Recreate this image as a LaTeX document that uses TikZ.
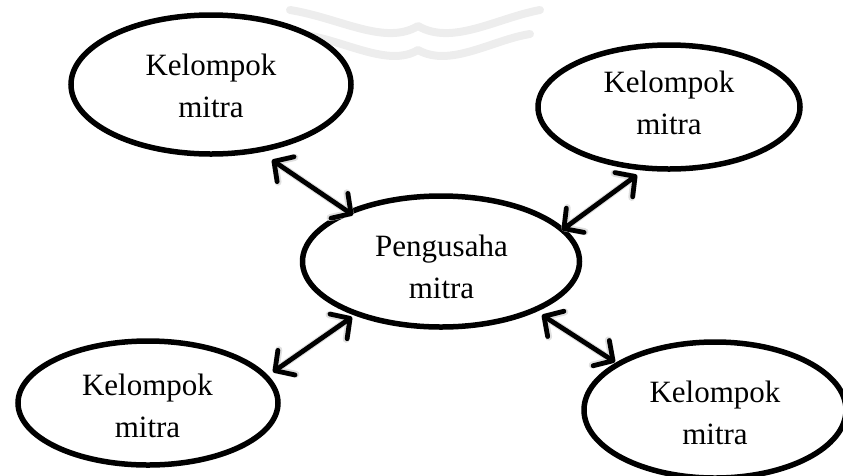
\documentclass[tikz,border=0pt]{standalone}
\usepackage{fontspec}
\setmainfont{Liberation Serif}
\usetikzlibrary{shapes.geometric,arrows.meta}

\tikzset{
  oval/.style={ellipse, draw=black, line width=5.5pt, fill=white, inner sep=0pt},
  caption/.style={align=center, font=\fontsize{31}{41.5}\selectfont, inner sep=0pt},
  barb/.tip={Straight Barb[length=14pt,width=30pt,line cap=round,line join=round]},
  link/.style={line width=4.8pt, line cap=round, line join=round, barb-barb},
  linkshade/.style={line width=7pt, line cap=round, line join=round, black!12, barb-barb},
  faint/.style={line width=8pt, black!7, line cap=round, line join=round},
}

\begin{document}
\begin{tikzpicture}[x=1pt, y=-1pt]
  \useasboundingbox (0,0) rectangle (843,475);

  % pale open-book emblem behind the top of the chart
  \draw[faint] (290,10) .. controls (340,18) and (385,46) .. (418,26)
                         .. controls (452,46) and (497,18) .. (540,10);
  \draw[faint] (300,34) .. controls (345,40) and (388,68) .. (418,50)
                         .. controls (450,68) and (492,40) .. (530,34);

  % ellipses
  \node[oval, minimum width=280pt, minimum height=139pt] (tl) at (211,84.5)  {};
  \node[oval, minimum width=262pt, minimum height=124pt] (tr) at (669,107)   {};
  \node[oval, minimum width=277pt, minimum height=131pt] (c)  at (441,261.5) {};
  \node[oval, minimum width=260pt, minimum height=124pt] (bl) at (148,403)   {};
  \node[oval, minimum width=262pt, minimum height=136pt] (br) at (715,410)   {};

  % labels
  \node[caption] (tltext) at (211,86)    {Kelompok\\mitra};
  \node[caption] (trtext) at (669,103)   {Kelompok\\mitra};
  \node[caption] (ctext)  at (441.5,267) {Pengusaha\\mitra};
  \node[caption] (bltext) at (147.5,406) {Kelompok\\mitra};
  \node[caption] (brtext) at (715,413)   {Kelompok\\mitra};

  % arrow end points
  \coordinate (tlA) at (272,160);  \coordinate (tlB) at (353,215);
  \coordinate (trA) at (637,175);  \coordinate (trB) at (562,230);
  \coordinate (blA) at (352,317);  \coordinate (blB) at (273,372);
  \coordinate (brA) at (542,315);  \coordinate (brB) at (615,362);

  % soft shade under the links
  \begin{scope}[shift={(3,4)}]
    \draw[linkshade] (tlA) -- (tlB);
    \draw[linkshade] (trA) -- (trB);
    \draw[linkshade] (blA) -- (blB);
    \draw[linkshade] (brA) -- (brB);
  \end{scope}

  % two-way links
  \draw[link] (tlA) -- (tlB);
  \draw[link] (trA) -- (trB);
  \draw[link] (blA) -- (blB);
  \draw[link] (brA) -- (brB);
\end{tikzpicture}
\end{document}
